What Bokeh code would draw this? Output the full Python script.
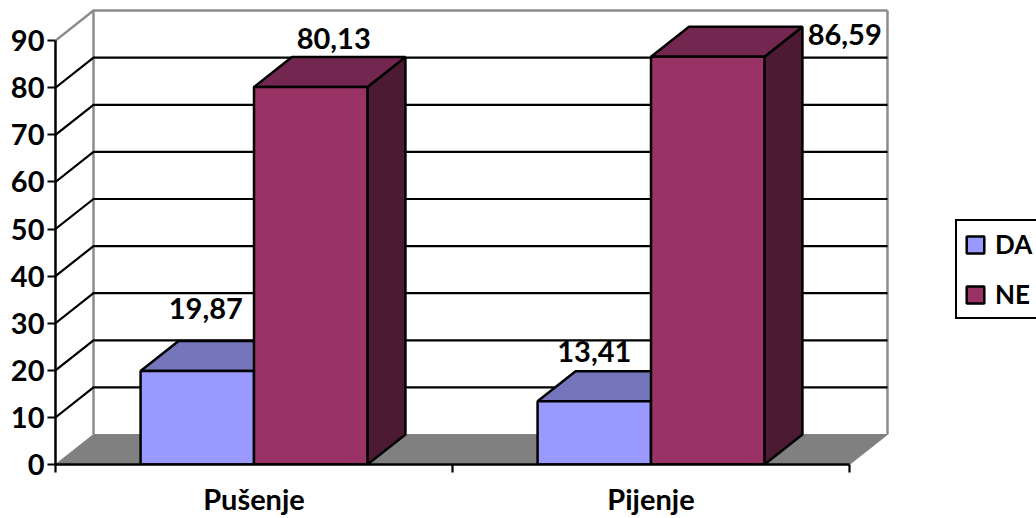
from bokeh.core.properties import value
from bokeh.embed import file_html
from bokeh.models import FixedTicker, Legend, LegendItem, LinearAxis, Range1d
from bokeh.plotting import figure
from bokeh.resources import INLINE

# Survey results in percent
categories = ["Pušenje", "Pijenje"]
series_names = ["DA", "NE"]
da_values = [19.87, 13.41]
ne_values = [80.13, 86.59]
y_ticks = [0, 10, 20, 30, 40, 50, 60, 70, 80, 90]
label_texts = {"DA": ["19,87", "13,41"], "NE": ["80,13", "86,59"]}

# Canvas layout in pixels
WIDTH, HEIGHT = 1036, 518
LEFT, BOTTOM_Y, TOP_Y, RIGHT = 55, 464, 8, 1036
PX_PER_CAT, PX_PER_UNIT = 397, 4.71
DEPTH_X = 38 / PX_PER_CAT
DEPTH_Y = 30 / PX_PER_UNIT
BAR_W = 1 / 3.5
TEXT_FONT = value("Lato")
FONT_PX = "29px"

FRONT = {"DA": "#9999FF", "NE": "#993366"}
TOP = {"DA": "#7575BB", "NE": "#732650"}
SIDE = {"DA": "#4D4D80", "NE": "#4D1A33"}
WALL_GREY = "#8C8C8C"
FLOOR_GREY = "#808080"

p = figure(
    width=WIDTH, height=HEIGHT, output_backend="svg", toolbar_location=None,
    x_range=Range1d(0, (RIGHT - LEFT) / PX_PER_CAT),
    y_range=Range1d(0, (BOTTOM_Y - TOP_Y) / PX_PER_UNIT),
    x_axis_location=None, y_axis_location=None,
    min_border_left=LEFT, min_border_right=WIDTH - RIGHT,
    min_border_top=TOP_Y, min_border_bottom=HEIGHT - BOTTOM_Y,
    outline_line_color=None, background_fill_color="white",
)
p.grid.visible = False

n_cat = len(categories)
y_max = y_ticks[-1]

# Floor of the box
p.patch([0, n_cat, n_cat + DEPTH_X, DEPTH_X], [0, 0, DEPTH_Y, DEPTH_Y],
        fill_color=FLOOR_GREY, line_color=FLOOR_GREY, line_width=1)

# Back wall and side wall outlines
p.line([DEPTH_X, DEPTH_X], [DEPTH_Y, y_max + DEPTH_Y], line_color=WALL_GREY, line_width=2.5)
p.line([n_cat + DEPTH_X, n_cat + DEPTH_X], [DEPTH_Y, y_max + DEPTH_Y], line_color=WALL_GREY, line_width=2.5)
p.line([0, DEPTH_X, n_cat + DEPTH_X], [y_max, y_max + DEPTH_Y, y_max + DEPTH_Y],
       line_color=WALL_GREY, line_width=2.5)

# Gridlines wrap from the axis across the side wall and the back wall
for t in y_ticks[1:-1]:
    p.line([0, DEPTH_X, n_cat + DEPTH_X], [t, t + DEPTH_Y, t + DEPTH_Y],
           line_color="black", line_width=2.2)


def draw_bar(x0, v, name):
    x1 = x0 + BAR_W
    outline = dict(line_color="black", line_width=2.5)
    p.patch([x1, x1 + DEPTH_X, x1 + DEPTH_X, x1], [0, DEPTH_Y, v + DEPTH_Y, v],
            fill_color=SIDE[name], **outline)
    p.patch([x0, x1, x1 + DEPTH_X, x0 + DEPTH_X], [v, v, v + DEPTH_Y, v + DEPTH_Y],
            fill_color=TOP[name], **outline)
    return p.patch([x0, x1, x1, x0], [0, 0, v, v], fill_color=FRONT[name], **outline)


legend_renderers = {}
for i in range(n_cat):
    centre = i + 0.5
    legend_renderers["DA"] = draw_bar(centre - BAR_W, da_values[i], "DA")
    legend_renderers["NE"] = draw_bar(centre, ne_values[i], "NE")

# Value labels sit beside the bars, each with its own pixel nudge
label_x = [0.5 - BAR_W / 2, 0.5 + BAR_W / 2, 1.5 - BAR_W / 2, 1.5 + BAR_W / 2]
label_y = [da_values[0], ne_values[0], da_values[1], ne_values[1]]
label_str = [label_texts["DA"][0], label_texts["NE"][0], label_texts["DA"][1], label_texts["NE"][1]]
nudge_x = [8.5, 23, 0, 137]
nudge_y = [-62, -49, -50, -22.5]
p.text(x=label_x, y=label_y, text=label_str, x_offset=nudge_x, y_offset=nudge_y,
       text_align="center", text_baseline="middle", text_color="black",
       text_font=TEXT_FONT, text_font_style="bold", text_font_size=FONT_PX)

# Axes
y_axis = LinearAxis(
    ticker=FixedTicker(ticks=y_ticks), bounds=(0, y_max),
    axis_line_color="black", axis_line_width=2.5,
    major_tick_line_color="black", major_tick_line_width=2.2,
    major_tick_in=0, major_tick_out=8, minor_tick_out=0, minor_tick_in=0,
    major_label_standoff=3,
    major_label_text_font="Lato", major_label_text_font_style="bold",
    major_label_text_font_size=FONT_PX, major_label_text_color="black",
)
p.add_layout(y_axis, "left")

x_axis = LinearAxis(
    ticker=FixedTicker(ticks=[0.5, 1.5], minor_ticks=[0, 1, 2]), bounds=(0, n_cat),
    axis_line_color="black", axis_line_width=2.5,
    major_tick_in=0, major_tick_out=0,
    minor_tick_line_color="black", minor_tick_line_width=2.2,
    minor_tick_in=0, minor_tick_out=8,
    major_label_overrides={0.5: categories[0], 1.5: categories[1]},
    major_label_standoff=8,
    major_label_text_font="Lato", major_label_text_font_style="bold",
    major_label_text_font_size=FONT_PX, major_label_text_color="black",
)
p.add_layout(x_axis, "below")

# Legend box runs off the right edge of the page
legend = Legend(
    items=[LegendItem(label=n, renderers=[legend_renderers[n]]) for n in series_names],
    location=(955 - LEFT, BOTTOM_Y - 319),
    orientation="vertical",
    border_line_color="black", border_line_alpha=1, border_line_width=2.5,
    background_fill_color="white", background_fill_alpha=1,
    glyph_width=22, glyph_height=21, label_standoff=9, spacing=18,
    padding=7, margin=0, label_height=30,
    label_text_font="Lato", label_text_font_style="bold",
    label_text_font_size="26px", label_text_color="black",
)
p.add_layout(legend, "center")

open("out.html", "w").write(file_html(p, INLINE))
